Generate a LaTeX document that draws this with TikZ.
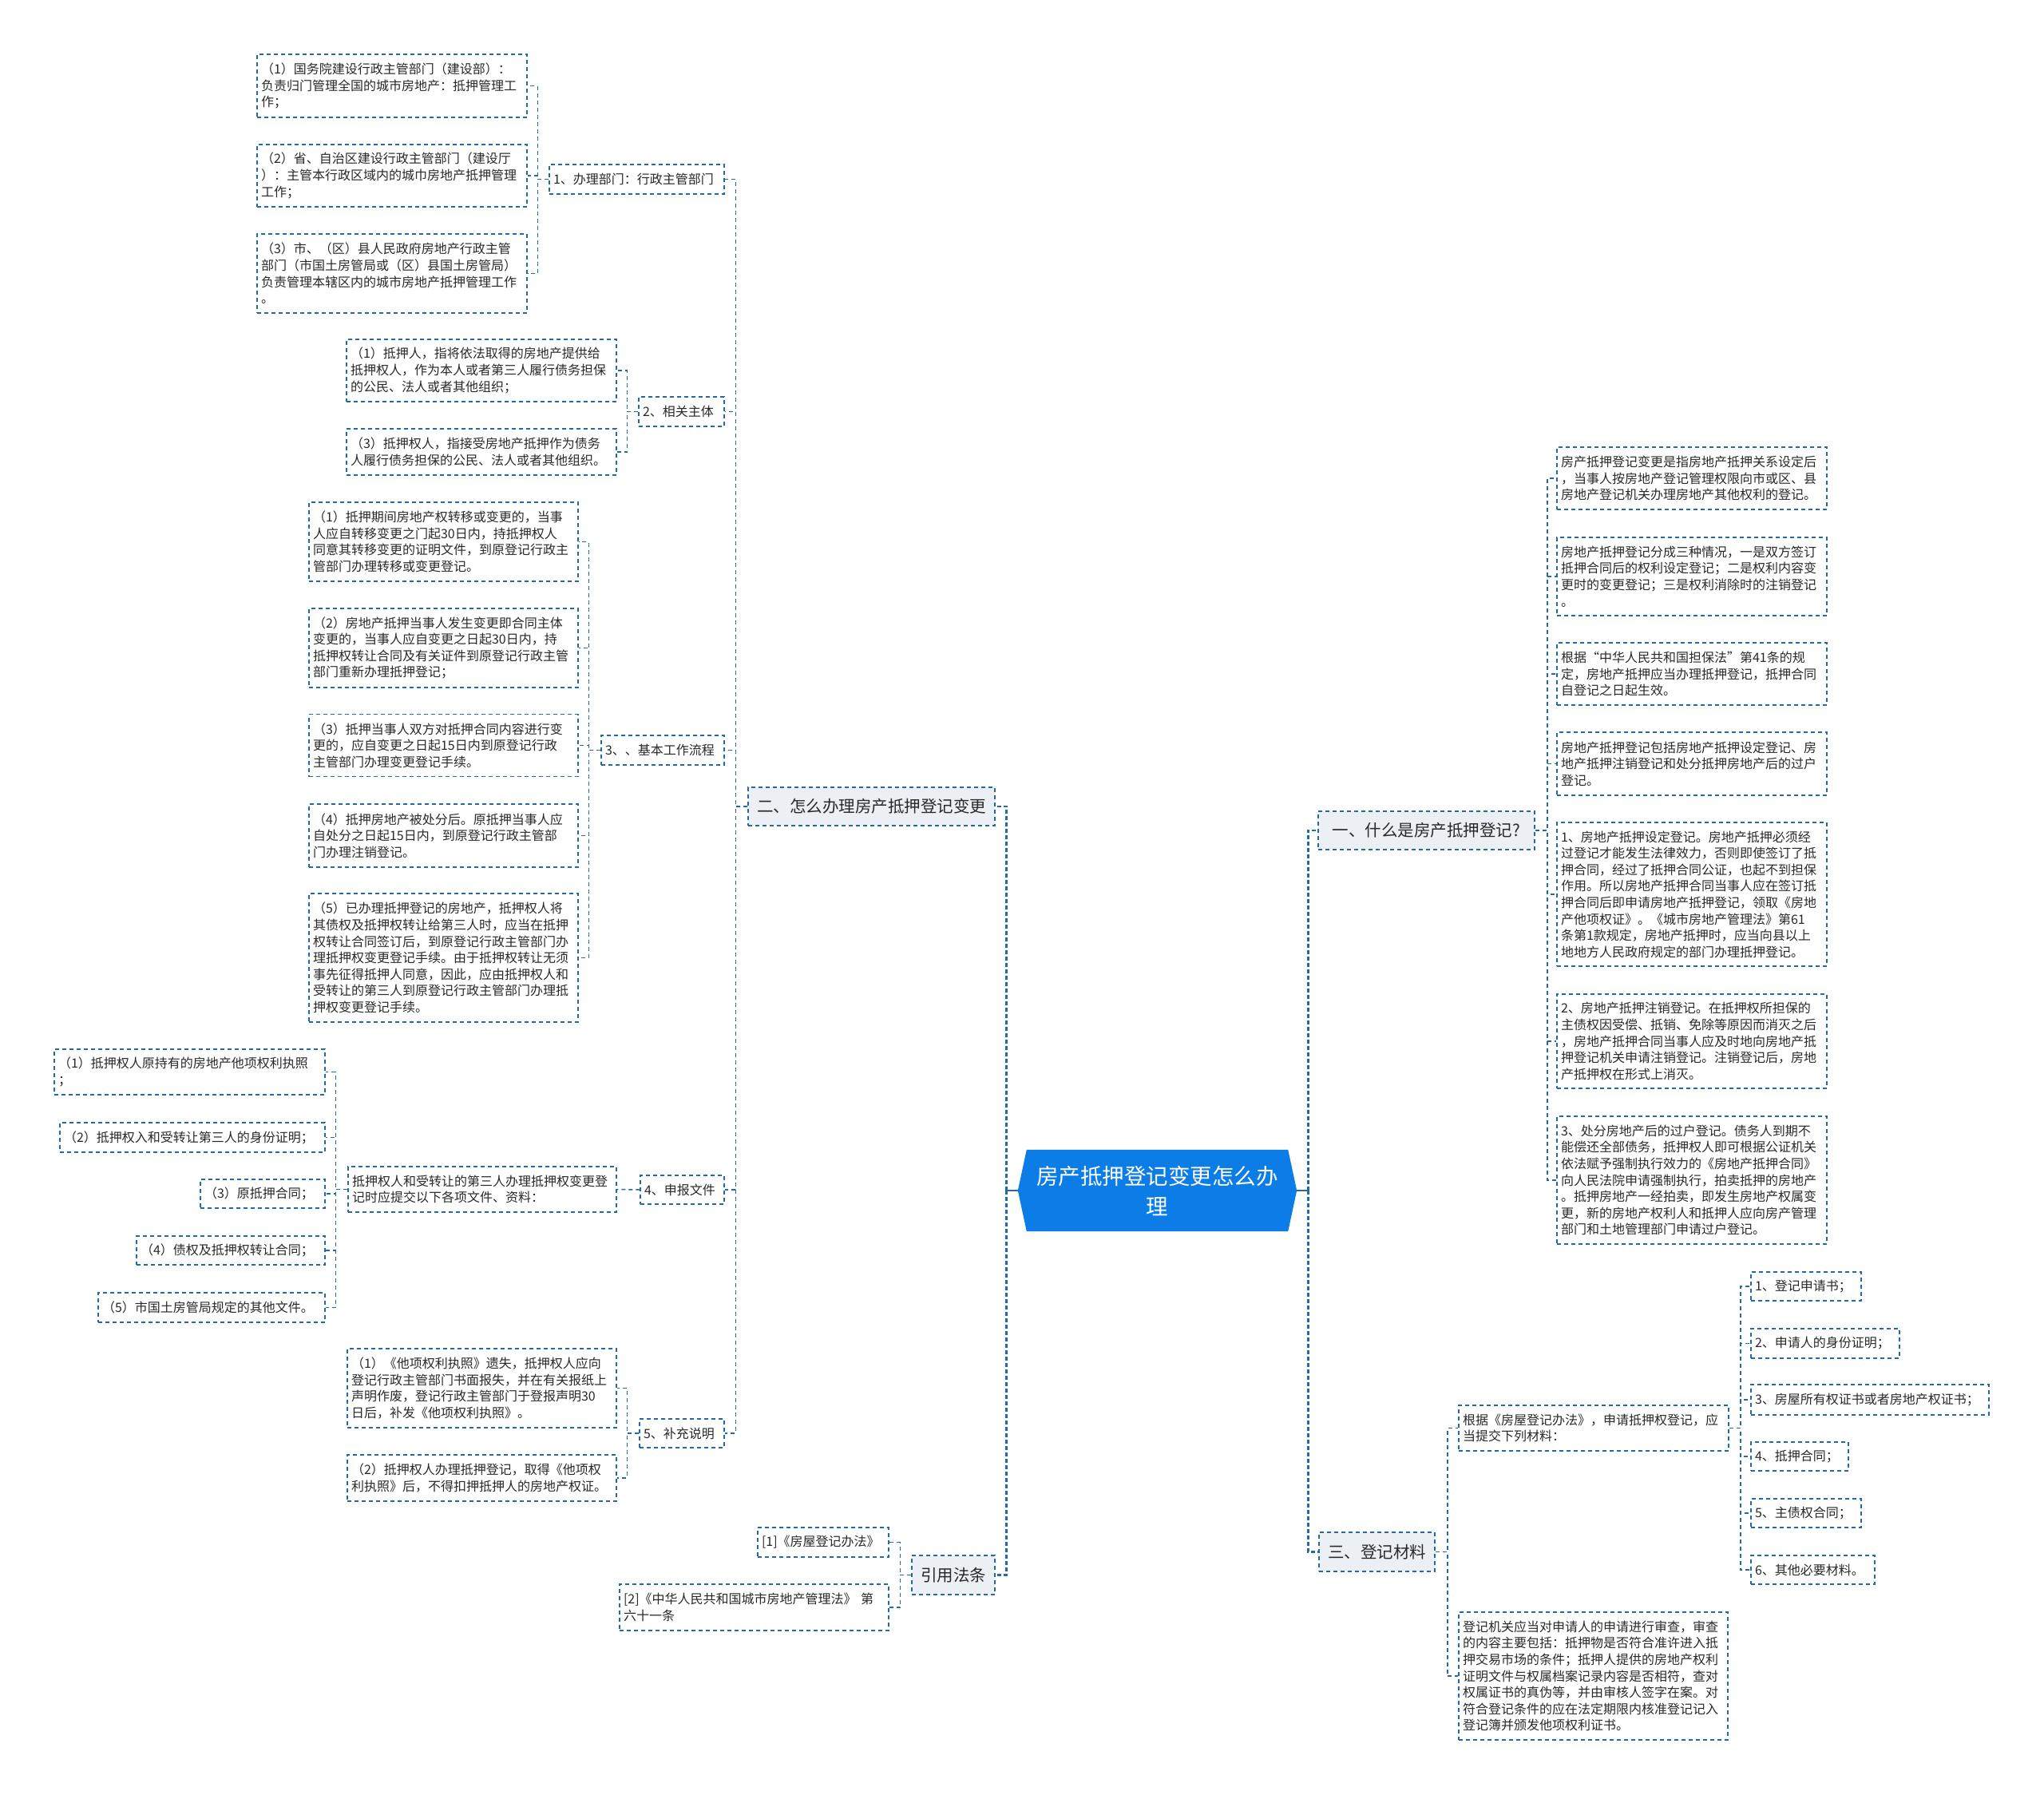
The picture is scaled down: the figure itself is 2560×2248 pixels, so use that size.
\documentclass[tikz,border=0pt]{standalone}
\usepackage{fontspec}
\setmainfont{Noto Sans CJK SC}
\usetikzlibrary{backgrounds}
\definecolor{linkblue}{RGB}{35,105,168}
\definecolor{topicfill}{RGB}{236,240,245}
\definecolor{rootblue}{RGB}{12,125,230}
\definecolor{textgray}{RGB}{40,40,40}
\tikzset{
  leaf/.style={draw=linkblue, line width=1.5pt, dash pattern=on 5pt off 4pt,
    text=textgray, font=\fontsize{16}{20.6}\selectfont, align=left,
    inner xsep=5pt, inner ysep=0pt},
  leafbox/.code 2 args={\pgfmathsetlengthmacro\leafw{#1-10}%
    \tikzset{minimum width=#1, minimum height=#2, text width=\leafw}},
  topic/.style={draw=linkblue, fill=topicfill, line width=1.5pt,
    dash pattern=on 5pt off 4pt, text=textgray,
    font=\fontsize{20.5}{24}\selectfont, inner sep=0pt, align=center},
  rootnode/.style={text=white, font=\fontsize{27.5}{38}\selectfont,
    align=center, inner sep=0pt, minimum width=327, minimum height=102},
  conn/.style={draw=linkblue, line width=1.5pt, dash pattern=on 5pt off 4pt},
  trunk/.style={draw=linkblue, line width=2.8pt, dash pattern=on 5pt off 3pt},
}
\begin{document}
\begin{tikzpicture}[x=1pt,y=-1pt]
  \useasboundingbox (0,0) rectangle (2560,2248);
  % centre
  \node[rootnode] (root) at (1449.5,1491) {房产抵押登记变更怎么办\\理};
  \coordinate (rootL) at ([xshift=-11pt]root.west);
  \coordinate (rootR) at ([xshift=11pt]root.east);
  \begin{pgfonlayer}{background}
    \fill[rootblue] (root.north west) -- (root.north east) -- (rootR)
      -- (root.south east) -- (root.south west) -- (rootL) -- cycle;
  \end{pgfonlayer}

  % left branch: 二
  \node[topic, minimum width=309, minimum height=48] (L1) at (1091.5,1010) {二、怎么办理房产抵押登记变更};
  \node[leaf, leafbox={219}{37}] (P1) at (797.5,224.5) {1、办理部门：行政主管部门};
  \node[leaf, leafbox={107}{37}] (P2) at (853.5,515.5) {2、相关主体};
  \node[leaf, leafbox={154}{37}] (P3) at (830,939.5) {3、、基本工作流程};
  \node[leaf, leafbox={105}{36}] (P4) at (854.5,1490) {4、申报文件};
  \node[leaf, leafbox={106}{36}] (P5) at (854,1795) {5、补充说明};

  \node[leaf, leafbox={338}{79}] (A1) at (491,107.5) {（1）国务院建设行政主管部门（建设部）：\\负责归门管理全国的城市房地产：抵押管理工\\作；};
  \node[leaf, leafbox={338}{78}] (A2) at (491,220) {（2）省、自治区建设行政主管部门（建设厅\\）：主管本行政区域内的城巾房地产抵押管理\\工作；};
  \node[leaf, leafbox={338}{99}] (A3) at (491,342.5) {（3）市、（区）县人民政府房地产行政主管\\部门（市国土房管局或（区）县国土房管局）\\负责管理本辖区内的城市房地产抵押管理工作\\。};

  \node[leaf, leafbox={338}{78}] (B1) at (603,464) {（1）抵押人，指将依法取得的房地产提供给\\抵押权人，作为本人或者第三人履行债务担保\\的公民、法人或者其他组织；};
  \node[leaf, leafbox={338}{58}] (B3) at (603,566) {（3）抵押权人，指接受房地产抵押作为债务\\人履行债务担保的公民、法人或者其他组织。};

  \node[leaf, leafbox={337}{99}] (C1) at (555.5,678.5) {（1）抵押期间房地产权转移或变更的，当事\\人应自转移变更之门起30日内，持抵押权人\\同意其转移变更的证明文件，到原登记行政主\\管部门办理转移或变更登记。};
  \node[leaf, leafbox={337}{99}] (C2) at (555.5,811.5) {（2）房地产抵押当事人发生变更即合同主体\\变更的，当事人应自变更之日起30日内，持\\抵押权转让合同及有关证件到原登记行政主管\\部门重新办理抵押登记；};
  \node[leaf, leafbox={337}{78}] (C3) at (555.5,933.5) {（3）抵押当事人双方对抵押合同内容进行变\\更的，应自变更之日起15日内到原登记行政\\主管部门办理变更登记手续。};
  \node[leaf, leafbox={337}{79}] (C4) at (555.5,1046.5) {（4）抵押房地产被处分后。原抵押当事人应\\自处分之日起15日内，到原登记行政主管部\\门办理注销登记。};
  \node[leaf, leafbox={337}{161}] (C5) at (555.5,1199.5) {（5）已办理抵押登记的房地产，抵押权人将\\其债权及抵押权转让给第三人时，应当在抵押\\权转让合同签订后，到原登记行政主管部门办\\理抵押权变更登记手续。由于抵押权转让无须\\事先征得抵押人同意，因此，应由抵押权人和\\受转让的第三人到原登记行政主管部门办理抵\\押权变更登记手续。};

  \node[leaf, leafbox={336}{57}] (DM) at (604,1489.5) {抵押权人和受转让的第三人办理抵押权变更登\\记时应提交以下各项文件、资料：};
  \node[leaf, leafbox={339}{57}] (D1) at (237.5,1342.5) {（1）抵押权人原持有的房地产他项权利执照\\；};
  \node[leaf, leafbox={332}{37}] (D2) at (241,1424.5) {（2）抵押权入和受转让第三人的身份证明；};
  \node[leaf, leafbox={156}{36}] (D3) at (329,1495) {（3）原抵押合同；};
  \node[leaf, leafbox={236}{36}] (D4) at (289,1566) {（4）债权及抵押权转让合同；};
  \node[leaf, leafbox={284}{37}] (D5) at (265,1637.5) {（5）市国土房管局规定的其他文件。};

  \node[leaf, leafbox={337}{99}] (E1) at (603.5,1738.5) {（1）《他项权利执照》遗失，抵押权人应向\\登记行政主管部门书面报失，并在有关报纸上\\声明作废，登记行政主管部门于登报声明30\\日后，补发《他项权利执照》。};
  \node[leaf, leafbox={337}{58}] (E2) at (603.5,1851) {（2）抵押权人办理抵押登记，取得《他项权\\利执照》后，不得扣押抵押人的房地产权证。};

  % left branch: 引用法条
  \node[topic, minimum width=104, minimum height=49] (L4) at (1194,1972.5) {引用法条};
  \node[leaf, leafbox={164}{37}] (R1) at (1031,1931.5) {[1]《房屋登记办法》};
  \node[leaf, leafbox={337}{58}] (R2) at (944.5,2013) {[2]《中华人民共和国城市房地产管理法》~第\\六十一条};

  % right branch: 一
  \node[topic, minimum width=271, minimum height=48] (N1) at (1786.5,1040) {一、什么是房产抵押登记?};
  \node[leaf, leafbox={338}{78}] (F1) at (2119,599) {房产抵押登记变更是指房地产抵押关系设定后\\，当事人按房地产登记管理权限向市或区、县\\房地产登记机关办理房地产其他权利的登记。};
  \node[leaf, leafbox={338}{98}] (F2) at (2119,722) {房地产抵押登记分成三种情况，一是双方签订\\抵押合同后的权利设定登记；二是权利内容变\\更时的变更登记；三是权利消除时的注销登记\\。};
  \node[leaf, leafbox={338}{78}] (F3) at (2119,844) {根据“中华人民共和国担保法”第41条的规\\定，房地产抵押应当办理抵押登记，抵押合同\\自登记之日起生效。};
  \node[leaf, leafbox={338}{79}] (F4) at (2119,956.5) {房地产抵押登记包括房地产抵押设定登记、房\\地产抵押注销登记和处分抵押房地产后的过户\\登记。};
  \node[leaf, leafbox={338}{180}] (F5) at (2119,1120) {1、房地产抵押设定登记。房地产抵押必须经\\过登记才能发生法律效力，否则即使签订了抵\\押合同，经过了抵押合同公证，也起不到担保\\作用。所以房地产抵押合同当事人应在签订抵\\押合同后即申请房地产抵押登记，领取《房地\\产他项权证》。《城市房地产管理法》第61\\条第1款规定，房地产抵押时，应当向县以上\\地地方人民政府规定的部门办理抵押登记。};
  \node[leaf, leafbox={338}{118}] (F6) at (2119,1304) {2、房地产抵押注销登记。在抵押权所担保的\\主债权因受偿、抵销、免除等原因而消灭之后\\，房地产抵押合同当事人应及时地向房地产抵\\押登记机关申请注销登记。注销登记后，房地\\产抵押权在形式上消灭。};
  \node[leaf, leafbox={338}{160}] (F7) at (2119,1478) {3、处分房地产后的过户登记。债务人到期不\\能偿还全部债务，抵押权人即可根据公证机关\\依法赋予强制执行效力的《房地产抵押合同》\\向人民法院申请强制执行，拍卖抵押的房地产\\。抵押房地产一经拍卖，即发生房地产权属变\\更，新的房地产权利人和抵押人应向房产管理\\部门和土地管理部门申请过户登记。};

  % right branch: 三
  \node[topic, minimum width=145, minimum height=49] (N3) at (1724.5,1943.5) {三、登记材料};
  \node[leaf, leafbox={338}{57}] (G) at (1996,1788.5) {根据《房屋登记办法》，申请抵押权登记，应\\当提交下列材料：};
  \node[leaf, leafbox={138}{36}] (G1) at (2262,1611) {1、登记申请书；};
  \node[leaf, leafbox={186}{37}] (G2) at (2286,1682.5) {2、申请人的身份证明；};
  \node[leaf, leafbox={298}{38}] (G3) at (2342,1753) {3、房屋所有权证书或者房地产权证书；};
  \node[leaf, leafbox={122}{36}] (G4) at (2254,1824) {4、抵押合同；};
  \node[leaf, leafbox={138}{36}] (G5) at (2262,1895) {5、主债权合同；};
  \node[leaf, leafbox={155}{36}] (G6) at (2270.5,1966) {6、其他必要材料。};
  \node[leaf, leafbox={337}{160}] (H) at (1995.5,2099) {登记机关应当对申请人的申请进行审查，审查\\的内容主要包括：抵押物是否符合准许进入抵\\押交易市场的条件；抵押人提供的房地产权利\\证明文件与权属档案记录内容是否相符，查对\\权属证书的真伪等，并由审核人签字在案。对\\符合登记条件的应在法定期限内核准登记记入\\登记簿并颁发他项权利证书。};

  % connectors
  \coordinate (busL) at ([xshift=-14pt]rootL);
  \coordinate (busR) at ([xshift=14pt]rootR);
  \draw[linkblue, line width=2.8pt] (rootL) -- (busL);
  \draw[linkblue, line width=2.8pt] (rootR) -- (busR);
  \foreach \t in {L1,L4}
    \draw[trunk] (busL) |- (\t.east);
  \foreach \t in {N1,N3}
    \draw[trunk] (busR) |- (\t.west);
  \foreach \c in {P1,P2,P3,P4,P5}
    \draw[conn] (L1.west) -- ++(-15,0) |- (\c.east);
  \foreach \c in {A1,A2,A3}
    \draw[conn] (P1.west) -- ++(-14,0) |- (\c.east);
  \foreach \c in {B1,B3}
    \draw[conn] (P2.west) -- ++(-14,0) |- (\c.east);
  \foreach \c in {C1,C2,C3,C4,C5}
    \draw[conn] (P3.west) -- ++(-15,0) |- (\c.east);
  \draw[conn] (P4.west) -- (DM.east);
  \foreach \c in {D1,D2,D3,D4,D5}
    \draw[conn] (DM.west) -- ++(-15,0) |- (\c.east);
  \foreach \c in {E1,E2}
    \draw[conn] (P5.west) -- ++(-15,0) |- (\c.east);
  \foreach \c in {R1,R2}
    \draw[conn] (L4.west) -- ++(-14,0) |- (\c.east);
  \foreach \c in {F1,F2,F3,F4,F5,F6,F7}
    \draw[conn] (N1.east) -- ++(15,0) |- (\c.west);
  \foreach \c in {G,H}
    \draw[conn] (N3.east) -- ++(15,0) |- (\c.west);
  \foreach \c in {G1,G2,G3,G4,G5,G6}
    \draw[conn] (G.east) -- ++(14,0) |- (\c.west);
\end{tikzpicture}
\end{document}
